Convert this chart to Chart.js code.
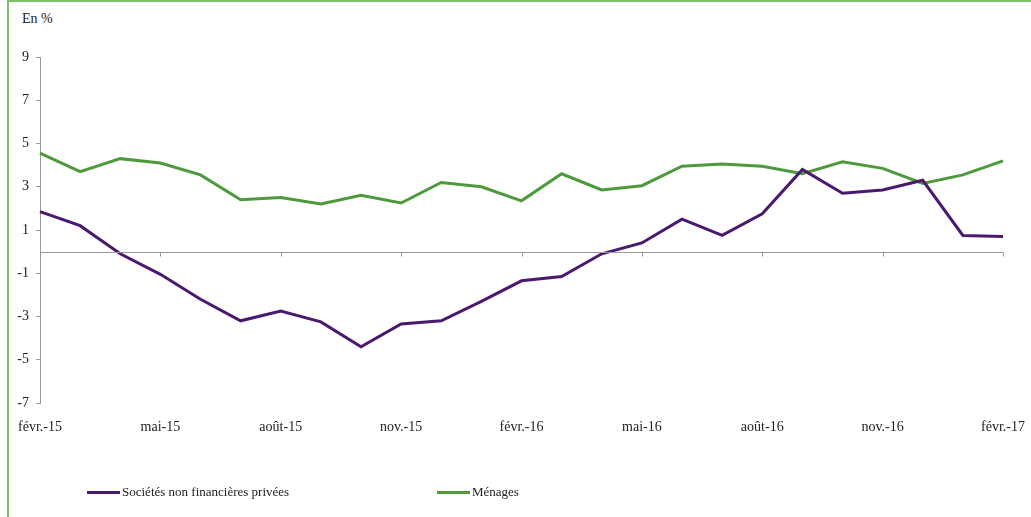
<!DOCTYPE html>
<html>
<head>
<meta charset="utf-8">
<script src="https://cdn.jsdelivr.net/npm/chart.js@4/dist/chart.umd.min.js"></script>
<style>
  html, body { margin: 0; padding: 0; background: #fff; }
  #wrap { position: relative; width: 1031px; height: 517px; overflow: hidden; }
  #frame { position: absolute; left: 7px; top: 0; width: 1030px; height: 520px; border-top: 2px solid #7cc067; border-left: 2px solid #7cc067; box-sizing: border-box; }
  #unit { position: absolute; left: 22px; top: 11px; font-family: "Liberation Serif", "DejaVu Serif", serif; font-size: 14px; color: #222; }
  canvas { position: absolute; left: 0; top: 0; }
  .leg { position: absolute; top: 484px; font-family: "Liberation Serif", "DejaVu Serif", serif; font-size: 13px; color: #222; display: flex; align-items: center; }
  .leg span.sw { display: inline-block; width: 33px; height: 3px; margin-right: 2px; }
</style>
</head>
<body>
<div id="wrap">
  <div id="frame"></div>
  <div id="unit">En %</div>
  <canvas id="c" width="1031" height="517"></canvas>
  <div class="leg" style="left:87px"><span class="sw" style="background:#4b1870"></span>Sociétés non financières privées</div>
  <div class="leg" style="left:437px"><span class="sw" style="background:#4c9a3c"></span>Ménages</div>
</div>
<script>
const months = ["févr.-15","mars-15","avr.-15","mai-15","juin-15","juil.-15","août-15","sept.-15","oct.-15","nov.-15","déc.-15","janv.-16",
  "févr.-16","mars-16","avr.-16","mai-16","juin-16","juil.-16","août-16","sept.-16","oct.-16","nov.-16","déc.-16","janv.-17","févr.-17"];
const societes = [1.85, 1.2, -0.1, -1.05, -2.2, -3.2, -2.75, -3.25, -4.4, -3.35, -3.2, -2.3,
  -1.35, -1.15, -0.1, 0.4, 1.5, 0.75, 1.75, 3.8, 2.7, 2.85, 3.3, 0.75, 0.7];
const menages = [4.55, 3.7, 4.3, 4.1, 3.55, 2.4, 2.5, 2.2, 2.6, 2.25, 3.2, 3.0,
  2.35, 3.6, 2.85, 3.05, 3.95, 4.05, 3.95, 3.6, 4.15, 3.85, 3.15, 3.55, 4.2];
const yTicks = [-7, -5, -3, -1, 1, 3, 5, 7, 9];
const labelStep = 3;

const FONT = "'Liberation Serif', 'DejaVu Serif', serif";
const AXIS = "#999999";

const zeroLine = {
  id: 'zeroLine',
  afterDatasetsDraw(chart) {
    const {ctx, scales: {x, y}} = chart;
    const y0 = Math.round(y.getPixelForValue(0)) + 0.5;
    ctx.save();
    ctx.strokeStyle = AXIS;
    ctx.lineWidth = 1;
    ctx.beginPath();
    ctx.moveTo(x.left, y0);
    ctx.lineTo(x.right, y0);
    for (let i = 0; i < months.length; i += labelStep) {
      const px = Math.round(x.getPixelForValue(i)) + 0.5;
      ctx.moveTo(px, y0);
      ctx.lineTo(px, y0 + 4);
    }
    ctx.stroke();
    ctx.restore();
  }
};

new Chart(document.getElementById('c'), {
  type: 'line',
  data: {
    labels: months,
    datasets: [
      { label: 'Sociétés non financières privées', data: societes, borderColor: '#4b1870', borderWidth: 3, pointRadius: 0, tension: 0, fill: false },
      { label: 'Ménages', data: menages, borderColor: '#4c9a3c', borderWidth: 3, pointRadius: 0, tension: 0, fill: false }
    ]
  },
  options: {
    responsive: false,
    animation: false,
    events: [],
    layout: { padding: { left: 0, right: 28, top: 57, bottom: 0 } },
    plugins: { legend: { display: false }, tooltip: { enabled: false } },
    scales: {
      x: {
        type: 'category',
        offset: false,
        grid: { display: false, drawTicks: false },
        border: { display: false },
        ticks: {
          autoSkip: false, maxRotation: 0, padding: 16,
          color: '#222', font: { family: FONT, size: 14 },
          callback: (v, i) => (i % labelStep === 0 ? months[i] : '')
        },
        afterFit(s) { s.height = 114; s.paddingLeft = 0; s.paddingRight = 0; }
      },
      y: {
        min: -7, max: 9,
        afterBuildTicks(s) { s.ticks = yTicks.map(v => ({ value: v })); },
        grid: { drawOnChartArea: false, drawTicks: true, tickLength: 4, color: AXIS },
        border: { display: true, color: AXIS },
        ticks: { padding: 7, color: '#222', font: { family: FONT, size: 14 } },
        afterFit(s) { s.width = 40; }
      }
    }
  },
  plugins: [zeroLine]
});
</script>
</body>
</html>
